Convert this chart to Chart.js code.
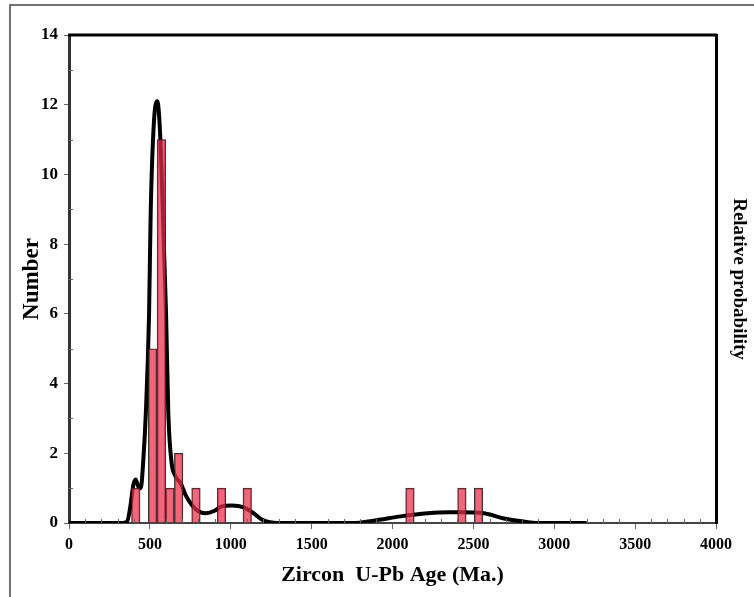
<!DOCTYPE html>
<html>
<head>
<meta charset="utf-8">
<script src="https://cdn.jsdelivr.net/npm/chart.js@4"></script>
<style>
  html, body { margin: 0; padding: 0; background: #fff; }
</style>
</head>
<body>
<canvas id="chart" width="754" height="597"></canvas>
<script>
// ── Data ─────────────────────────────────────────────
// histogram bins: bin centre (Ma) and number of grains
const binAges   = [413, 517, 571, 624, 678, 785, 943, 1102, 2108, 2429, 2532];
const binCounts = [1, 5, 11, 1, 2, 1, 1, 1, 1, 1, 1];

const curveAges   = [0, 330, 360, 380, 398, 412, 428, 444, 458, 475, 495, 505, 525, 546,
                     567, 587, 600, 614, 635, 652, 670, 690, 721, 782, 844, 900, 940,
                     1007, 1080, 1141, 1192, 1243, 1290, 1750, 1900, 2050, 2217, 2350,
                     2422, 2566, 2689, 2812, 2900, 3200];
const curveValues = [0, 0, 0.05, 0.5, 1.1, 1.25, 1.05, 1.0, 1.7, 3.15, 6.0, 8.9, 11.5, 12.1,
                     10.8, 7.9, 6.0, 3.15, 1.7, 1.4, 1.25, 1.15, 0.8, 0.4, 0.28, 0.35, 0.47,
                     0.5, 0.45, 0.28, 0.1, 0.02, 0, 0, 0.08, 0.19, 0.28, 0.31,
                     0.31, 0.28, 0.13, 0.04, 0, 0];

const xMin = 0, xMax = 4000, xStep = 500, xMinorStep = 100;
const yMin = 0, yMax = 14, yStep = 2;

const serif = "'Liberation Serif', 'Times New Roman', serif";

// ── Frame, top border and minor ticks ────────────────
const framePlugin = {
    id: 'frame',
    beforeDraw(chart) {
        const { ctx, width, height } = chart;
        ctx.save();
        ctx.fillStyle = '#fff';
        ctx.fillRect(0, 0, width, height);
        ctx.strokeStyle = '#444';
        ctx.lineWidth = 1.5;
        ctx.beginPath();
        ctx.moveTo(10, height);
        ctx.lineTo(10, 5);
        ctx.lineTo(width, 5);
        ctx.stroke();
        ctx.restore();
    },
    afterDraw(chart) {
        const { ctx, chartArea: a, scales } = chart;
        ctx.save();
        ctx.strokeStyle = '#666';
        ctx.lineWidth = 1;
        ctx.beginPath();
        for (let v = xMin + xMinorStep; v < xMax; v += xMinorStep) {
            if (v % xStep === 0) continue;
            const px = Math.round(scales.x.getPixelForValue(v)) + 0.5;
            ctx.moveTo(px, a.bottom);
            ctx.lineTo(px, a.bottom - 4);
        }
        for (let v = yMin + 1; v < yMax; v += yStep) {
            const py = Math.round(scales.y.getPixelForValue(v)) + 0.5;
            ctx.moveTo(a.left, py);
            ctx.lineTo(a.left + 4, py);
        }
        ctx.stroke();
        ctx.strokeStyle = '#000';
        ctx.lineWidth = 3;
        ctx.beginPath();
        ctx.moveTo(a.left - 1, a.top);
        ctx.lineTo(a.right + 1, a.top);
        ctx.stroke();
        ctx.restore();
    }
};

new Chart(document.getElementById('chart'), {
    data: {
        datasets: [
            {
                type: 'bar',
                data: binAges.map((x, i) => ({ x, y: binCounts[i] })),
                backgroundColor: 'rgba(232, 45, 70, 0.72)',
                borderColor: 'rgba(30, 30, 30, 0.9)',
                borderWidth: 1,
                categoryPercentage: 1,
                barPercentage: 1,
                order: 0
            },
            {
                type: 'line',
                data: curveAges.map((x, i) => ({ x, y: curveValues[i] })),
                borderColor: '#000',
                borderWidth: 4,
                pointRadius: 0,
                cubicInterpolationMode: 'monotone',
                fill: false,
                order: 1
            }
        ]
    },
    options: {
        responsive: false,
        animation: false,
        layout: { padding: { top: 35, left: 0, right: 0, bottom: 0 } },
        plugins: { legend: { display: false }, tooltip: { enabled: false } },
        scales: {
            x: {
                type: 'linear',
                offset: false,
                min: xMin, max: xMax,
                afterFit: s => { s.height = 74; },
                ticks: {
                    stepSize: xStep,
                    color: '#000',
                    padding: 6,
                    maxRotation: 0,
                    callback: v => String(v),
                    font: { family: serif, size: 16, weight: 'bold' }
                },
                grid: { drawOnChartArea: false, offset: false, tickLength: 6, color: '#666' },
                border: { color: '#444', width: 2 },
                title: {
                    display: true,
                    text: 'Zircon  U-Pb Age (Ma.)',
                    color: '#000',
                    padding: { top: 0, bottom: 8 },
                    font: { family: serif, size: 22, weight: 'bold' }
                }
            },
            y: {
                position: 'left',
                min: yMin, max: yMax,
                afterFit: s => { s.width = 69; },
                ticks: {
                    stepSize: yStep,
                    color: '#000',
                    padding: 6,
                    font: { family: serif, size: 17, weight: 'bold' }
                },
                grid: { drawOnChartArea: false, tickLength: 5, color: '#666' },
                border: { color: '#333', width: 3 },
                title: {
                    display: true,
                    text: 'Number',
                    color: '#000',
                    padding: { top: 18, bottom: 0 },
                    font: { family: serif, size: 23, weight: 'bold' }
                }
            },
            y1: {
                position: 'right',
                min: yMin, max: yMax,
                afterFit: s => { s.width = 38; },
                ticks: { display: false },
                grid: { display: false },
                border: { color: '#000', width: 3 },
                title: {
                    display: true,
                    text: 'Relative probability',
                    color: '#000',
                    padding: { top: 4, bottom: 0 },
                    font: { family: serif, size: 19, weight: 'bold' }
                }
            }
        }
    },
    plugins: [framePlugin]
});
</script>
</body>
</html>
